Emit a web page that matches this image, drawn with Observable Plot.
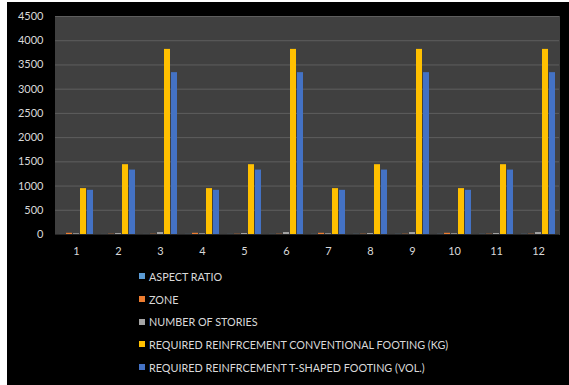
<!DOCTYPE html>
<html><head><meta charset="utf-8">
<script src="https://cdn.jsdelivr.net/npm/d3@7"></script>
<script src="https://cdn.jsdelivr.net/npm/@observablehq/plot@0.6"></script>
<style>
html,body{margin:0;padding:0;background:#fff;}
#wrap{position:absolute;left:7px;top:2px;width:562px;height:383px;background:#000;overflow:hidden;font-family:Lato,"Open Sans",sans-serif;}
#legend{position:absolute;left:132px;top:263px;color:#d9d9d9;font-size:10.8px;}
.li{height:22.7px;display:flex;align-items:center;white-space:nowrap;}
.sw{width:6px;height:6px;margin-right:4px;display:inline-block;}
</style></head>
<body><div id="wrap"><div id="chart"></div><div id="legend"></div></div>
<script>
const categories = ["1","2","3","4","5","6","7","8","9","10","11","12"];
const series = ["ASPECT RATIO","ZONE","NUMBER OF STORIES","REQUIRED REINFRCEMENT CONVENTIONAL FOOTING (KG)","REQUIRED REINFRCEMENT T-SHAPED FOOTING (VOL.)"];
const colors = ["#5b9bd5","#ed7d31","#a5a5a5","#ffc000","#4472c4"];
const aspectRatio = [1,1,1,1.5,1.5,1.5,2,2,2,2.5,2.5,2.5];
const zone = [25,5,5,25,5,5,25,5,5,25,5,5];
const stories = [15,20,40,15,20,40,15,20,40,15,20,40];
const conventional = [947,1441,3821,947,1441,3821,947,1441,3821,947,1441,3821];
const tShaped = [912,1330,3341,912,1330,3341,912,1330,3341,912,1330,3341];
const yTicks = [0,500,1000,1500,2000,2500,3000,3500,4000,4500];

const cols = [aspectRatio, zone, stories, conventional, tShaped];
const data = [];
categories.forEach((c,i)=>series.forEach((s,j)=>data.push({cat:c, series:s, value:cols[j][i]})));

const chart = Plot.plot({
  width: 562, height: 260,
  marginLeft: 45, marginRight: 7, marginTop: 14, marginBottom: 28,
  style: {background:"transparent", color:"#d9d9d9", fontFamily:"Lato, 'Open Sans', sans-serif", fontSize:"11px"},
  fx: {domain: categories, padding: 0, label: null, tickSize: 0, tickPadding: 13},
  x: {domain: series, axis: null, paddingInner: 0.15, paddingOuter: 0.33},
  y: {domain: [0,4500], ticks: yTicks, tickFormat: "d", label: null, tickSize: 0, tickPadding: 12},
  color: {domain: series, range: colors},
  marks: [
    Plot.frame({fill:"#404040", stroke:"#404040", strokeWidth:1}),
    Plot.gridY(yTicks.slice(1), {stroke:"#5e5e5e", strokeOpacity:1}),
    Plot.barY(data, {fx:"cat", x:"series", y:"value", fill:"series"}),
    Plot.ruleY([0], {stroke:"#262626"})
  ]
});
document.getElementById("chart").appendChild(chart);

const lg = document.getElementById("legend");
series.forEach((s,j)=>{
  const d = document.createElement("div"); d.className="li";
  d.innerHTML = `<span class="sw" style="background:${colors[j]}"></span><span>${s}</span>`;
  lg.appendChild(d);
});
</script></body></html>
